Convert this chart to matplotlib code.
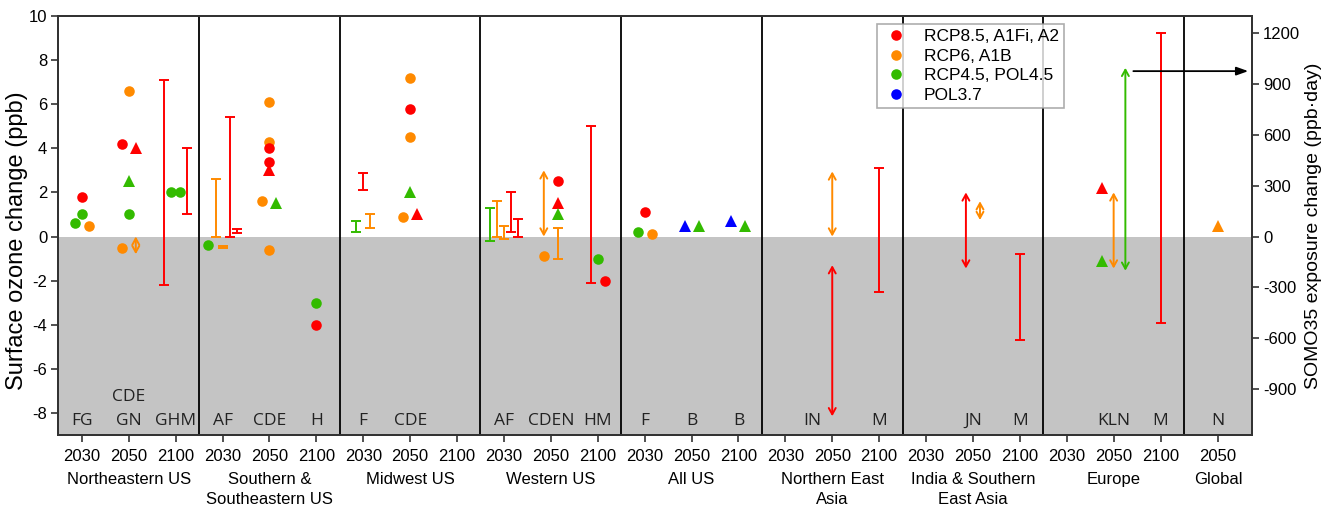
import matplotlib
matplotlib.use('Agg')
import matplotlib.pyplot as plt
import matplotlib.transforms as mtransforms
from matplotlib.lines import Line2D

plt.rcParams['font.family'] = ['Liberation Sans', 'DejaVu Sans']

# ---------------- data ----------------
regions = ["Northeastern US", "Southern &\nSoutheastern US", "Midwest US", "Western US",
           "All US", "Northern East\nAsia", "India & Southern\nEast Asia", "Europe", "Global"]
years = ["2030", "2050", "2100"]
global_years = ["2050"]

scenario_names = ["RCP8.5, A1Fi, A2", "RCP6, A1B", "RCP4.5, POL4.5", "POL3.7"]
scenario_keys = ["R", "O", "G", "B"]

# study code labels (region index, year, text)
code_region = [0, 0, 0, 1, 1, 1, 2, 2, 3, 3, 3, 4, 4, 4, 5, 5, 6, 6, 7, 7, 8]
code_year = ["2030", "2050", "2100", "2030", "2050", "2100", "2030", "2050", "2030", "2050", "2100",
             "2030", "2050", "2100", "2050", "2100", "2050", "2100", "2050", "2100", "2050"]
code_text = ["FG", "CDE\nGN", "GHM", "AF", "CDE", "H", "F", "CDE", "AF", "CDEN", "HM",
             "F", "B", "B", "IN", "M", "JN", "M", "KLN", "M", "N"]
code_dodge = [0, 0, 0, 0, 0, 0, 0, 0, 0, 0, 0, 0, 0, 0, -0.43, 0, 0, 0, 0, 0, 0]

# single-value results
pt_region = [0, 0, 0, 0, 0, 0, 0, 0, 0, 0, 0, 0,
             1, 1, 1, 1, 1, 1, 1, 1, 1, 1, 1,
             2, 2, 2, 2, 2, 2,
             3, 3, 3, 3, 3, 3,
             4, 4, 4, 4, 4, 4, 4,
             7, 7, 8]
pt_year = ["2030", "2030", "2030", "2030", "2050", "2050", "2050", "2050", "2050", "2050", "2100", "2100",
           "2030", "2050", "2050", "2050", "2050", "2050", "2050", "2050", "2050", "2100", "2100",
           "2050", "2050", "2050", "2050", "2050", "2050",
           "2050", "2050", "2050", "2050", "2100", "2100",
           "2030", "2030", "2030", "2050", "2050", "2100", "2100",
           "2050", "2050", "2050"]
pt_scen = ["R", "G", "G", "O", "O", "R", "R", "G", "G", "O", "G", "G",
           "G", "O", "O", "R", "R", "R", "O", "G", "O", "G", "R",
           "O", "R", "O", "G", "O", "R",
           "R", "R", "G", "O", "G", "R",
           "R", "G", "O", "B", "G", "B", "G",
           "R", "G", "O"]
pt_shape = ["o", "o", "o", "o", "o", "o", "^", "^", "o", "o", "o", "o",
            "o", "o", "o", "o", "o", "^", "o", "^", "o", "o", "o",
            "o", "o", "o", "^", "o", "^",
            "o", "^", "^", "o", "o", "o",
            "o", "o", "o", "^", "^", "^", "^",
            "^", "^", "^"]
pt_value = [1.8, 1.0, 0.6, 0.5, 6.6, 4.2, 4.0, 2.5, 1.0, -0.5, 2.0, 2.0,
            -0.4, 6.1, 4.3, 4.0, 3.4, 3.0, 1.6, 1.5, -0.6, -3.0, -4.0,
            7.2, 5.8, 4.5, 2.0, 0.9, 1.0,
            2.5, 1.5, 1.0, -0.9, -1.0, -2.0,
            1.1, 0.2, 0.1, 0.5, 0.5, 0.7, 0.5,
            2.2, -1.1, 0.5]
pt_dodge = [0, 0, -0.15, 0.15, 0, -0.15, 0.15, 0, 0, -0.15, -0.1, 0.1,
            -0.3, 0, 0, 0, 0, 0, -0.15, 0.15, 0, 0, 0,
            0, 0, 0, 0, -0.15, 0.15,
            0.15, 0.15, 0.15, -0.15, 0, 0.15,
            0, -0.15, 0.15, -0.15, 0.15, -0.15, 0.15,
            -0.25, -0.25, 0]

# ranges (bar = min/max, arrow = range of possible values)
rg_region = [0, 0, 0, 1, 1, 1, 1, 2, 2, 2, 3, 3, 3, 3, 3, 3, 3, 3, 5, 5, 5, 6, 6, 6, 7, 7, 7]
rg_year = ["2050", "2100", "2100", "2030", "2030", "2030", "2030", "2030", "2030", "2030",
           "2030", "2030", "2030", "2030", "2030", "2050", "2050", "2100",
           "2050", "2050", "2100", "2050", "2050", "2100", "2050", "2050", "2100"]
rg_scen = ["O", "R", "R", "O", "O", "R", "R", "G", "R", "O",
           "G", "O", "O", "R", "R", "O", "O", "R",
           "O", "R", "R", "R", "O", "R", "O", "G", "R"]
rg_kind = ["arrow", "bar", "bar", "bar", "bar", "bar", "bar", "bar", "bar", "bar",
           "bar", "bar", "bar", "bar", "bar", "arrow", "bar", "bar",
           "arrow", "arrow", "bar", "arrow", "arrow", "bar", "arrow", "arrow", "bar"]
rg_low = [-0.8, -2.2, 1.0, 0.0, -0.52, 0.0, 0.15, 0.2, 2.1, 0.4,
          -0.2, 0.0, -0.1, 0.2, 0.0, 0.0, -1.0, -2.1,
          0.0, -8.15, -2.5, -1.45, 0.75, -4.7, -1.45, -1.55, -3.9]
rg_high = [0.0, 7.1, 4.0, 2.6, -0.42, 5.4, 0.35, 0.7, 2.9, 1.0,
           1.3, 1.6, 0.5, 2.0, 0.8, 3.0, 0.4, 5.0,
           2.95, -1.3, 3.1, 2.0, 1.6, -0.8, 2.0, 7.65, 9.25]
rg_dodge = [0.15, -0.25, 0.25, -0.15, 0, 0.15, 0.3, -0.15, 0, 0.15,
            -0.3, -0.15, 0, 0.15, 0.3, -0.15, 0.15, -0.15,
            0, 0, 0, -0.15, 0.15, 0, 0, 0.25, 0]

# link from Europe RCP4.5 upper bound to SOMO35 axis
somo_link_level = 7.5

ppb_to_somo = 130.0
left_ticks = [-8, -6, -4, -2, 0, 2, 4, 6, 8, 10]
right_ticks = [-900, -600, -300, 0, 300, 600, 900, 1200]

# ---------------- styling ----------------
colors = {"R": "#ff0000", "O": "#ff8a00", "G": "#33bb00", "B": "#0000ff"}
global_width = 1.45

tick_x = {}
for r in range(8):
    for k, yr in enumerate(years):
        tick_x[(r, yr)] = 3 * r + k
tick_x[(8, "2050")] = 23.5 + global_width / 2

W, H = 1338, 509
fig = plt.figure(figsize=(W / 100, H / 100), dpi=100)
ax = fig.add_axes([58.4 / W, 1 - 435 / H, (1252 - 58.4) / W, 419 / H])
ax.set_xlim(-0.5, 23.5 + global_width)
ax.set_ylim(-9, 10)

ax.axhspan(-9, 0, color="#c4c4c4", zorder=0, lw=0)
for r in range(8):
    ax.axvline(3 * r + 2.5, color="black", lw=1.3, zorder=1)

# ranges
for r, yr, s, kind, lo, hi, d in zip(rg_region, rg_year, rg_scen, rg_kind, rg_low, rg_high, rg_dodge):
    x = tick_x[(r, yr)] + d
    if kind == "bar":
        mid = (lo + hi) / 2
        ax.errorbar([x], [mid], yerr=[[mid - lo], [hi - mid]], fmt="none",
                    ecolor=colors[s], elinewidth=1.4, capsize=3.8, capthick=1.4, zorder=3)
    else:
        ax.annotate("", xy=(x, hi), xytext=(x, lo),
                    arrowprops=dict(arrowstyle="<->,head_length=0.45,head_width=0.25",
                                    color=colors[s], lw=1.4, shrinkA=0, shrinkB=0),
                    zorder=3)

# points
for r, yr, s, m, v, d in zip(pt_region, pt_year, pt_scen, pt_shape, pt_value, pt_dodge):
    x = tick_x[(r, yr)] + d
    ax.plot([x], [v], marker=m, color=colors[s], ms=8.2 if m == "^" else 7.6,
            ls="none", mew=0, zorder=4)

# Europe link arrow to right axis
eu_green_x = tick_x[(7, "2050")] + 0.25
ax.annotate("", xy=(ax.get_xlim()[1] - 0.08, somo_link_level), xytext=(eu_green_x + 0.17, somo_link_level),
            arrowprops=dict(arrowstyle="-|>,head_length=0.7,head_width=0.25", color="black",
                            lw=1.3, shrinkA=0, shrinkB=0), zorder=5)

# study codes
for r, yr, t, d in zip(code_region, code_year, code_text, code_dodge):
    ax.text(tick_x[(r, yr)] + d, -8.72, t, ha="center", va="bottom", fontsize=12.5,
            family=["Open Sans", "DejaVu Sans"], color="#222222", linespacing=1.65, zorder=5)

# axes ticks
xt = [tick_x[(r, yr)] for r in range(8) for yr in years] + [tick_x[(8, "2050")]]
xl = years * 8 + global_years
ax.set_xticks(xt)
ax.set_xticklabels(xl, fontsize=12)
ax.set_yticks(left_ticks)
ax.set_yticklabels([str(t) for t in left_ticks], fontsize=12)
ax.tick_params(direction="out", length=5, width=1.2, color="#333333", pad=3)
ax.tick_params(axis="x", pad=5)
ax.set_ylabel("Surface ozone change (ppb)", fontsize=17)
ax.yaxis.set_label_coords((28 - 58.4) / 1193.6, 0.464)

trans = mtransforms.blended_transform_factory(ax.transData, ax.transAxes)
for r, name in enumerate(regions):
    cx = 3 * r + 1 if r < 8 else tick_x[(8, "2050")]
    ax.text(cx, -0.089, name, transform=trans, ha="center", va="top", fontsize=12, linespacing=1.4)

for sp in ax.spines.values():
    sp.set_linewidth(1.4)
    sp.set_color("#333333")

ax2 = ax.twinx()
ax2.set_ylim(-9 * ppb_to_somo, 10 * ppb_to_somo)
ax2.set_yticks(right_ticks)
ax2.set_yticklabels([str(t) for t in right_ticks], fontsize=12)
ax2.tick_params(direction="out", length=5, width=1.2, color="#333333", pad=3)
ax2.set_ylabel("SOMO35 exposure change (ppb\u00b7day)", fontsize=14)
ax2.yaxis.set_label_coords((1305 - 58.4) / 1193.6, 0.5)
for sp in ax2.spines.values():
    sp.set_linewidth(1.4)
    sp.set_color("#333333")

handles = [Line2D([], [], marker="o", ls="none", color=colors[k], ms=7.6, mew=0) for k in scenario_keys]
leg = ax.legend(handles, scenario_names, loc="upper left", bbox_to_anchor=(0.686, 0.981),
                borderaxespad=0, fontsize=12.5, frameon=True, fancybox=False, edgecolor="#999999",
                handletextpad=0.8, labelspacing=0.25, borderpad=0.3, handlelength=1.6)
leg.get_frame().set_linewidth(1.2)
leg.set_zorder(10)

fig.savefig("out.png", dpi=100)
